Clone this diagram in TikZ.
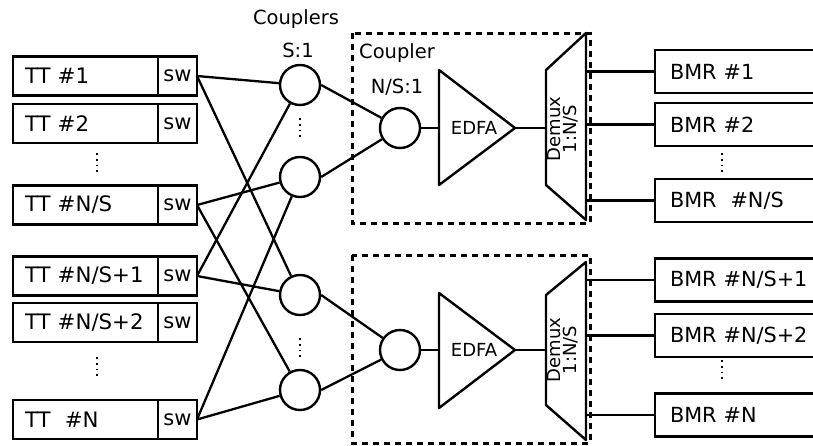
\documentclass[tikz,border=0pt]{standalone}
\usepackage{fontspec}
\setmainfont{DejaVu Sans}
\usetikzlibrary{positioning}
\tikzset{
  box/.style={draw, line width=2.8pt, outer sep=0pt, inner ysep=0pt},
  ttbox/.style={box, minimum width=145pt, minimum height=39pt, inner xsep=12pt,
    text width=121pt, align=left, font=\fontsize{21.3}{22}\selectfont},
  swbox/.style={box, minimum width=39pt, minimum height=39pt, inner xsep=0pt,
    font=\fontsize{21}{22}\selectfont},
  bmrbox/.style={box, minimum width=170pt, minimum height=43pt, inner xsep=15pt,
    text width=140pt, align=left, font=\fontsize{20.8}{22}\selectfont},
  coup/.style={draw, circle, line width=2.4pt, minimum size=40pt, inner sep=0pt},
  link/.style={line width=2.3pt},
  part/.style={draw, line width=2.4pt, line join=round},
  dashbox/.style={draw, line width=3pt, dash pattern=on 6pt off 5pt},
  dots/.style={line width=1.8pt, dash pattern=on 1.8pt off 4pt},
  lab/.style={font=\fontsize{19.5}{22}\selectfont},
}

\begin{document}
\begin{tikzpicture}[x=1pt,y=-1pt]
  \useasboundingbox (0,0) rectangle (813,445);
  \clip (0,0) rectangle (813,445);

  % transmitters with switches
  \node[ttbox] (tt1) at (85.5,76) {TT \#1};
  \node[swbox, right=0pt of tt1] (sw1) {sw};
  \node[ttbox] (tt2) at (85.5,123.5) {TT \#2};
  \node[swbox, right=0pt of tt2] (sw2) {sw};
  \node[ttbox] (ttS) at (85.5,205) {TT \#N/S};
  \node[swbox, right=0pt of ttS] (swS) {sw};
  \node[ttbox] (ttSa) at (85.5,276) {TT \#N/S+1};
  \node[swbox, right=0pt of ttSa] (swSa) {sw};
  \node[ttbox] (ttSb) at (85.5,322.5) {TT \#N/S+2};
  \node[swbox, right=0pt of ttSb] (swSb) {sw};
  \node[ttbox] (ttN) at (85.5,419.5) {TT\ \ \#N};
  \node[swbox, right=0pt of ttN] (swN) {sw};
  \draw[dots] (97,153) -- (97,175);
  \draw[dots] (97,357) -- (97,379);

  % first stage couplers
  \node[lab] (lcps) at (296,19) {Couplers};
  \node[lab] (lsone) at (298,50) {S:1};
  \node[coup] (cp1) at (300,85) {};
  \node[coup] (cp2) at (300,177) {};
  \node[coup] (cp3) at (300,295) {};
  \node[coup] (cp4) at (300,390) {};
  \draw[dots] (300,118) -- (300,140);
  \draw[dots] (300,338) -- (300,360);

  \draw[link] (sw1.east) -- (cp1);
  \draw[link] (sw1.east) -- (cp3);
  \draw[link] (swS.east) -- (cp2);
  \draw[link] (swS.east) -- (cp4);
  \draw[link] (swSa.east) -- (cp1);
  \draw[link] (swSa.east) -- (cp3);
  \draw[link] (swN.east) -- (cp2);
  \draw[link] (swN.east) -- (cp4);

  % upper branch
  \draw[dashbox] (352,33) rectangle (590,223);
  \node[lab] (lcpl) at (397,53) {Coupler};
  \node[lab] (lnsone) at (397,87) {N/S:1};
  \node[coup] (cc1) at (400,128) {};
  \draw[part] (439,70) coordinate (ea1) -- (439,185) -- (515,128) coordinate (eo1) -- cycle;
  \node[lab, font=\fontsize{18}{22}\selectfont] (edfa1) at (474,128) {EDFA};
  \draw[part] (546,70) coordinate (dx1) -- (546,185) -- (586,220) -- (586,33) coordinate (dr1) -- cycle;
  \node[lab, rotate=90, align=center, font=\fontsize{18}{16}\selectfont] (dmx1) at (563,129) {Demux\\1:N/S};
  \draw[link] (cp1.east) -- (cc1);
  \draw[link] (cp2.east) -- (cc1);
  \draw[link] (cc1) -- (ea1 |- cc1);
  \draw[link] (eo1) -- (dx1 |- eo1);

  \node[bmrbox, anchor=west] (bmr1) at (655,71.5) {BMR \#1};
  \node[bmrbox, anchor=west] (bmr2) at (655,124.5) {BMR \#2};
  \node[bmrbox, anchor=west] (bmrS) at (655,200.5) {BMR\ \ \#N/S};
  \draw[dots] (722,153) -- (722,175);
  \draw[link] (bmr1.west) -- (bmr1.west -| dr1);
  \draw[link] (bmr2.west) -- (bmr2.west -| dr1);
  \draw[link] (bmrS.west) -- (bmrS.west -| dr1);

  % lower branch
  \draw[dashbox] (352,255) rectangle (590,443);
  \node[coup] (cc2) at (400,350) {};
  \draw[part] (439,293) coordinate (ea2) -- (439,408) -- (515,350) coordinate (eo2) -- cycle;
  \node[lab, font=\fontsize{18}{22}\selectfont] (edfa2) at (474,350) {EDFA};
  \draw[part] (546,295) coordinate (dx2) -- (546,405) -- (586,440) -- (586,262) coordinate (dr2) -- cycle;
  \node[lab, rotate=90, align=center, font=\fontsize{18}{16}\selectfont] (dmx2) at (563,350) {Demux\\1:N/S};
  \draw[link] (cp3.east) -- (cc2);
  \draw[link] (cp4.east) -- (cc2);
  \draw[link] (cc2) -- (ea2 |- cc2);
  \draw[link] (eo2) -- (dx2 |- eo2);

  \node[bmrbox, anchor=west] (bmrSa) at (655,280) {BMR \#N/S+1};
  \node[bmrbox, anchor=west] (bmrSb) at (655,335.5) {BMR \#N/S+2};
  \node[bmrbox, anchor=west] (bmrN) at (655,415) {BMR \#N};
  \draw[dots] (722,360) -- (722,382);
  \draw[link] (bmrSa.west) -- (bmrSa.west -| dr2);
  \draw[link] (bmrSb.west) -- (bmrSb.west -| dr2);
  \draw[link] (bmrN.west) -- (bmrN.west -| dr2);
\end{tikzpicture}
\end{document}
